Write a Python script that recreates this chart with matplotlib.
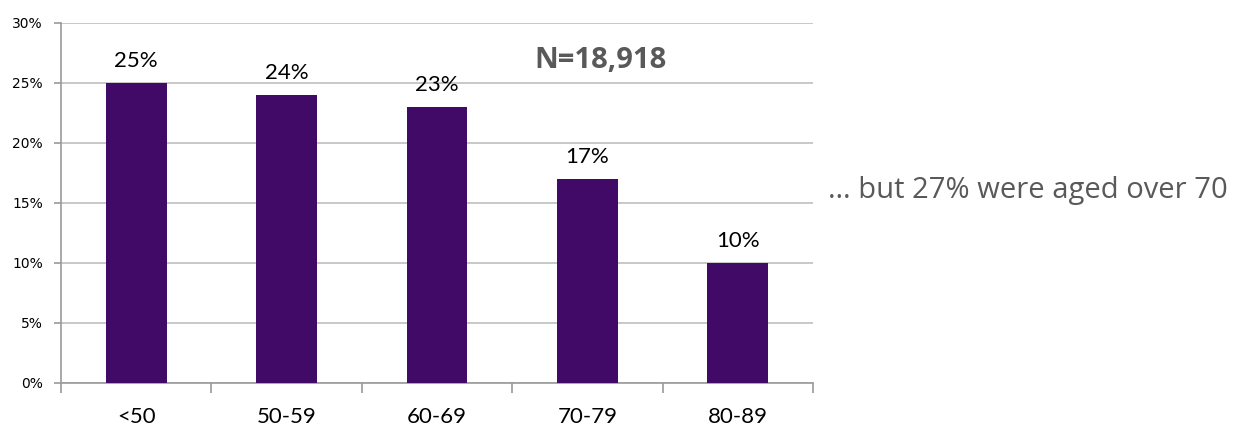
import numpy as np
import matplotlib
matplotlib.use('Agg')
import matplotlib.pyplot as plt
from matplotlib.ticker import FixedLocator

# age groups and share of patients in each
grupos = ['<50', '50-59', '60-69', '70-79', '80-89']
percentuais = [25, 24, 23, 17, 10]
rotulos_y = ['0%', '5%', '10%', '15%', '20%', '25%', '30%']
total = 'N=18,918'
nota = '\u2026 but 27% were aged over 70'

cor_barra = '#410a66'
cor_grade = '#bfbfbf'
cor_eixo = '#9a9a9a'

fig = plt.figure(figsize=(12.43, 4.26), dpi=100)
ax = fig.add_axes([61/1243, 43/426, 752/1243, 360/426])

x = np.arange(len(grupos))
ax.bar(x, percentuais, width=0.405, color=cor_barra, zorder=3)

for xi, v in zip(x, percentuais):
    ax.text(xi, v + 1.35, f'{v}%', ha='center', va='baseline',
            fontsize=16, family='Lato', color='black')

ax.set_xlim(-0.5, len(grupos) - 0.5)
ax.set_ylim(0, 30)
ax.set_yticks(np.arange(0, 31, 5))
ax.set_yticklabels(rotulos_y, family='DejaVu Sans', fontsize=10)
ax.yaxis.grid(True, color=cor_grade, linewidth=1.2, zorder=0)

# category labels centred, tick marks at the category boundaries
ax.set_xticks(x)
ax.set_xticklabels(grupos, family='Lato', fontsize=16)
ax.tick_params(axis='x', which='major', length=0, pad=17.5)
ax.xaxis.set_minor_locator(FixedLocator(np.arange(-0.5, len(grupos), 1)))
ax.tick_params(axis='x', which='minor', length=7, color=cor_eixo, width=1.2)
ax.tick_params(axis='y', length=5, color=cor_eixo, width=1.2, pad=8)

for lado in ['top', 'right']:
    ax.spines[lado].set_visible(False)
for lado in ['left', 'bottom']:
    ax.spines[lado].set_color(cor_eixo)
    ax.spines[lado].set_linewidth(1.2)

ax.text(3.09, 26.25, total, ha='center', va='baseline', fontsize=21,
        fontweight='bold', family='Open Sans', color='#595959')

fig.text(1027.5/1243, 1 - 198/426, nota, ha='center', va='baseline',
         fontsize=21, family='Open Sans', color='#595959')

plt.savefig('out.png', dpi=100)
